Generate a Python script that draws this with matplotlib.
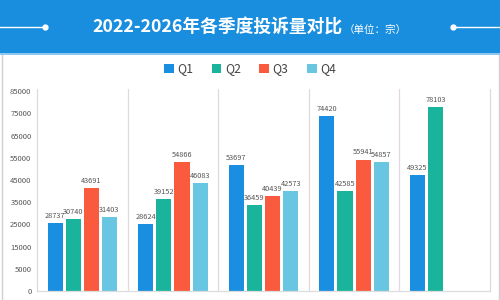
import matplotlib
matplotlib.use("Agg")
import matplotlib.pyplot as plt
import numpy as np
from matplotlib.lines import Line2D
from matplotlib.patches import Rectangle

plt.rcParams['font.family'] = ['Noto Sans CJK SC', 'DejaVu Sans']

years = ['2022', '2023', '2024', '2025', '2026']
series = ['Q1', 'Q2', 'Q3', 'Q4']
q1 = [28737, 28624, 53697, 74420, 49325]
q2 = [30740, 39152, 36459, 42585, 78103]
q3 = [43691, 54866, 40439, 55941, None]
q4 = [31403, 46083, 42573, 54857, None]
ytick_labels = ['0', '5000', '15000', '25000', '35000', '45000', '55000', '65000', '75000', '85000']
colors = ['#1a8ee0', '#1ab49c', '#fa5a3e', '#68c6e2']
title = '2022-2026年各季度投诉量对比'
subtitle = '（单位：宗）'

fig = plt.figure(figsize=(5, 3), dpi=100)
fig.patch.set_facecolor('white')

# header band
fig.add_artist(Rectangle((0, 1 - 53 / 300), 1, 53 / 300, transform=fig.transFigure,
                         facecolor='#1a8ede', edgecolor='none', zorder=0))
fig.add_artist(Rectangle((0, 1 - 55 / 300), 1, 2 / 300, transform=fig.transFigure,
                         facecolor='#8cc8f0', edgecolor='none', zorder=0))
# panel border
fig.add_artist(Line2D([0.003, 0.003], [0, 1 - 55 / 300], transform=fig.transFigure, color='#d0d0d0', lw=1))
fig.add_artist(Line2D([0.997, 0.997], [0, 1 - 55 / 300], transform=fig.transFigure, color='#d0d0d0', lw=1))

# decorative lines
ly = 1 - 27 / 300
fig.add_artist(Line2D([0, 45 / 500], [ly, ly], transform=fig.transFigure, color='white', lw=1))
fig.add_artist(Line2D([45 / 500], [ly], transform=fig.transFigure, color='white', marker='o', ms=3.5, lw=0))
fig.add_artist(Line2D([453 / 500, 1], [ly, ly], transform=fig.transFigure, color='white', lw=1))
fig.add_artist(Line2D([453 / 500], [ly], transform=fig.transFigure, color='white', marker='o', ms=3.5, lw=0))

fig.text(92 / 500, 1 - 28 / 300, title, color='white', fontsize=12.8, fontweight='bold',
         ha='left', va='center')
fig.text(344 / 500, 1 - 29.5 / 300, subtitle, color='white', fontsize=7.6, ha='left', va='center')

ax = fig.add_axes([37 / 500, 9 / 300, 453 / 500, 0.70 - 9 / 300 + 0.004])
x = np.arange(len(years))
vals = [q1, q2, q3, q4]
offsets = [-0.3, -0.1, 0.1, 0.3]
w = 0.167
for s, v, c, o in zip(series, vals, colors, offsets):
    xs = [xi + o for xi, vi in zip(x, v) if vi is not None]
    vs = [vi for vi in v if vi is not None]
    ax.bar(xs, vs, width=w, color=c, label=s, zorder=2)
    for xi, vi in zip(xs, vs):
        ax.text(xi, vi + 1300, str(vi), ha='center', va='bottom', fontsize=5.3, color='#555555', zorder=3)

top = 85000
ax.set_ylim(0, top * 1.012)
ax.set_xlim(-0.5, 4.5)
ax.set_yticks(np.linspace(0, top, 10))
ax.set_yticklabels(ytick_labels, fontsize=5.5, color='#555555')
ax.tick_params(axis='y', length=0, pad=4)
ax.set_xticks([])
for b in [0.5, 1.5, 2.5, 3.5]:
    ax.axvline(b, color='#e2d8de', lw=0.9, zorder=1)
for sp in ['left', 'right', 'bottom']:
    ax.spines[sp].set_color('#dcdcdc')
    ax.spines[sp].set_linewidth(0.9)
ax.spines['top'].set_visible(False)

leg = fig.legend(loc='center', bbox_to_anchor=(0.5, 1 - 69 / 300), ncol=4, frameon=False,
                 fontsize=8.8, handlelength=0.8, handleheight=0.8, handletextpad=0.3,
                 columnspacing=1.5, labelcolor='#444444')

fig.savefig('out.png', dpi=100)
